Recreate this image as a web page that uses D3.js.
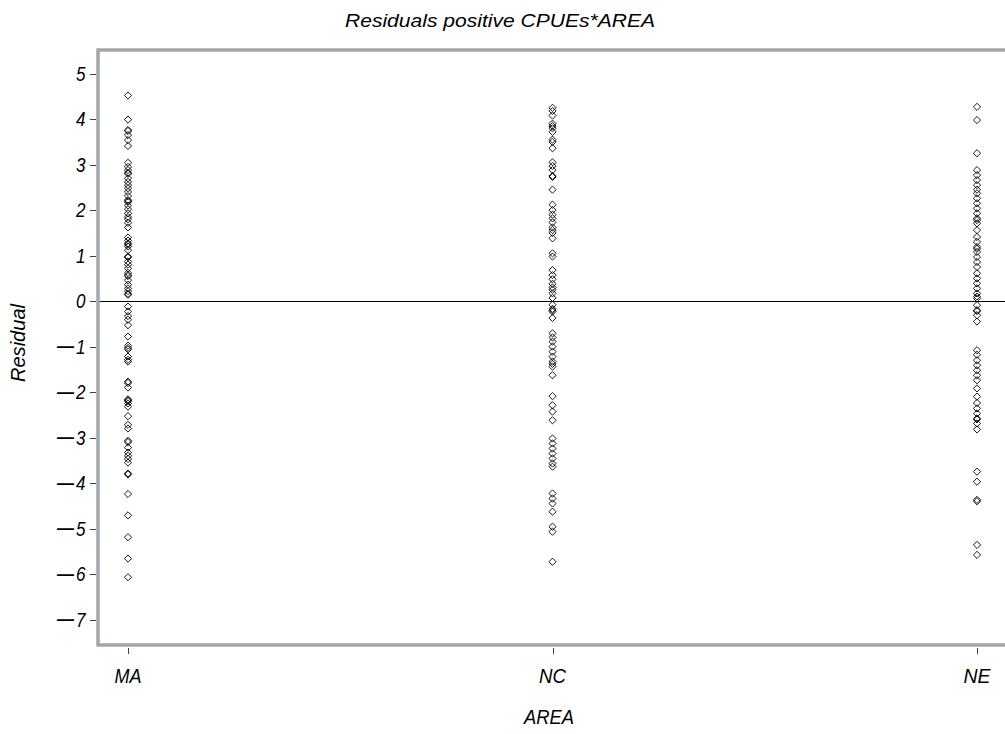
<!DOCTYPE html>
<html>
<head>
<meta charset="utf-8">
<script src="https://cdn.jsdelivr.net/npm/d3@7/dist/d3.min.js"></script>
<style>
  html, body { margin: 0; padding: 0; background: #fff; }
  svg text { font-family: "Liberation Sans", Arial, sans-serif; font-style: italic; fill: #000; }
</style>
</head>
<body>
<svg id="chart" width="1005" height="734"></svg>
<script>
// Residuals of the positive-CPUE model, grouped by AREA
const areas = ["MA", "NC", "NE"];

const residMA = [4.52, 3.99, 3.76, 3.74, 3.65, 3.54, 3.41, 3.04, 2.95, 2.88, 2.82, 2.80, 2.70, 2.62,
  2.55, 2.48, 2.40, 2.31, 2.22, 2.20, 2.18, 2.10, 2.02, 1.93, 1.85, 1.80, 1.72, 1.62, 1.40, 1.33,
  1.27, 1.24, 1.20, 1.12, 0.98, 0.96, 0.87, 0.80, 0.72, 0.62, 0.57, 0.55, 0.46, 0.36, 0.28, 0.22,
  0.16, 0.14, -0.12, -0.23, -0.33, -0.41, -0.53, -0.78, -0.98, -1.03, -1.06, -1.22, -1.29, -1.33,
  -1.77, -1.80, -1.90, -2.16, -2.18, -2.20, -2.25, -2.32, -2.53, -2.72, -2.80, -3.07, -3.10, -3.22,
  -3.33, -3.40, -3.47, -3.55, -3.79, -3.81, -4.24, -4.71, -5.19, -5.66, -6.07];

const residNC = [4.25, 4.18, 4.08, 3.90, 3.85, 3.80, 3.72, 3.55, 3.50, 3.36, 3.05, 2.97, 2.88, 2.75,
  2.73, 2.45, 2.12, 2.00, 1.90, 1.82, 1.73, 1.62, 1.56, 1.50, 1.38, 1.05, 0.98, 0.68, 0.57, 0.48,
  0.38, 0.30, 0.25, 0.17, 0.07, -0.08, -0.17, -0.20, -0.23, -0.37, -0.71, -0.80, -0.89, -1.00,
  -1.11, -1.22, -1.33, -1.38, -1.44, -1.63, -2.09, -2.29, -2.43, -2.62, -3.02, -3.13, -3.24, -3.35,
  -3.46, -3.57, -3.64, -4.23, -4.34, -4.45, -4.63, -4.96, -5.07, -5.73];

const residNE = [4.27, 3.98, 3.25, 2.88, 2.77, 2.66, 2.55, 2.45, 2.37, 2.26, 2.15, 2.04, 1.93, 1.82,
  1.78, 1.71, 1.56, 1.41, 1.30, 1.19, 1.15, 1.08, 0.97, 0.86, 0.75, 0.61, 0.50, 0.39, 0.28, 0.17,
  0.10, 0.06, -0.09, -0.20, -0.22, -0.31, -0.45, -1.08, -1.18, -1.30, -1.41, -1.52, -1.63, -1.74,
  -1.92, -2.10, -2.24, -2.36, -2.47, -2.58, -2.60, -2.69, -2.82, -3.75, -3.97, -4.37, -4.40, -5.36,
  -5.58];

const yTicks = [5, 4, 3, 2, 1, 0, -1, -2, -3, -4, -5, -6, -7];

const seriesByArea = { MA: residMA, NC: residNC, NE: residNE };
const points = areas.flatMap(a => seriesByArea[a].map(v => ({ area: a, value: v })));

const svg = d3.select("#chart");
const frame = { left: 98, right: 1010, top: 50, bottom: 645 };

const x = d3.scalePoint().domain(areas).range([128, 977]);
const y = d3.scaleLinear().domain([-7.56, 5.52]).range([frame.bottom, frame.top]);

// Title (condensed italic face)
svg.append("text")
  .attr("x", 500).attr("y", 27)
  .attr("text-anchor", "middle")
  .attr("font-size", 18)
  .attr("textLength", 310).attr("lengthAdjust", "spacingAndGlyphs")
  .text("Residuals positive CPUEs*AREA");

// Zero reference line
svg.append("line")
  .attr("x1", frame.left).attr("x2", frame.right)
  .attr("y1", Math.round(y(0)) + 0.5).attr("y2", Math.round(y(0)) + 0.5)
  .attr("stroke", "#000").attr("stroke-width", 1);

// Residual markers (open diamonds)
const diamond = "M0,-3.6L3.6,0L0,3.6L-3.6,0Z";
svg.append("g").selectAll("path")
  .data(points)
  .join("path")
  .attr("d", diamond)
  .attr("transform", d => `translate(${x(d.area)},${y(d.value)})`)
  .attr("fill", "none")
  .attr("stroke", "#000")
  .attr("stroke-width", 0.9);

// Plot frame
svg.append("rect")
  .attr("x", frame.left).attr("y", frame.top)
  .attr("width", frame.right - frame.left).attr("height", frame.bottom - frame.top)
  .attr("fill", "none")
  .attr("stroke", "#a2a6aa").attr("stroke-width", 3.5);

// Y axis ticks and labels (narrow digits; negative sign set as a long dash)
const yAxis = svg.append("g");
yAxis.selectAll("line").data(yTicks).join("line")
  .attr("x1", 90).attr("x2", 96)
  .attr("y1", d => Math.round(y(d)) + 0.5).attr("y2", d => Math.round(y(d)) + 0.5)
  .attr("stroke", "#444").attr("stroke-width", 1);
yAxis.selectAll("text.digit").data(yTicks).join("text")
  .attr("class", "digit")
  .attr("x", 85.5).attr("y", d => y(d))
  .attr("dy", "0.36em")
  .attr("text-anchor", "end")
  .attr("font-size", 20)
  .attr("textLength", 9.5).attr("lengthAdjust", "spacingAndGlyphs")
  .text(d => String(Math.abs(d)));
yAxis.selectAll("text.minus").data(yTicks.filter(d => d < 0)).join("text")
  .attr("class", "minus")
  .attr("x", 74).attr("y", d => y(d))
  .attr("dy", "0.33em")
  .attr("text-anchor", "end")
  .attr("font-size", 17)
  .attr("font-weight", "bold")
  .text("\u2014");

// X axis ticks and labels
const xAxis = svg.append("g");
xAxis.selectAll("line").data(areas).join("line")
  .attr("x1", d => Math.round(x(d)) + 0.5).attr("x2", d => Math.round(x(d)) + 0.5)
  .attr("y1", 648).attr("y2", 654)
  .attr("stroke", "#444").attr("stroke-width", 1);
xAxis.selectAll("text").data(areas).join("text")
  .attr("x", d => x(d)).attr("y", 676)
  .attr("dy", "0.36em")
  .attr("text-anchor", "middle")
  .attr("font-size", 20)
  .attr("textLength", 27).attr("lengthAdjust", "spacingAndGlyphs")
  .text(d => d);

// Axis titles
svg.append("text")
  .attr("x", 549).attr("y", 717)
  .attr("dy", "0.36em")
  .attr("text-anchor", "middle")
  .attr("font-size", 20)
  .attr("textLength", 50).attr("lengthAdjust", "spacingAndGlyphs")
  .text("AREA");

svg.append("text")
  .attr("transform", "translate(18,343) rotate(-90)")
  .attr("dy", "0.36em")
  .attr("text-anchor", "middle")
  .attr("font-size", 20)
  .attr("textLength", 78).attr("lengthAdjust", "spacingAndGlyphs")
  .text("Residual");
</script>
</body>
</html>
